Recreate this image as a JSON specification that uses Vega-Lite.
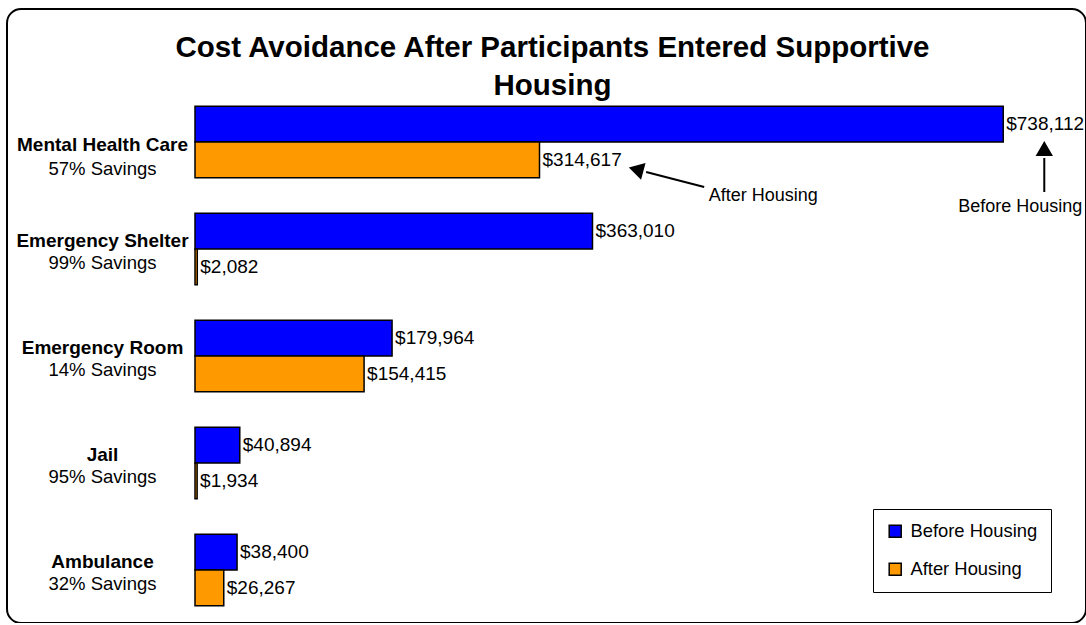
{
  "$schema": "https://vega.github.io/schema/vega-lite/v6.json",
  "width": 1079,
  "height": 614,
  "autosize": {"type": "none"},
  "padding": {"left": 7, "top": 9, "right": 0, "bottom": 0},
  "background": "white",
  "config": {
    "view": {"stroke": "black", "strokeWidth": 2, "cornerRadius": 14, "fill": "white"},
    "font": "Liberation Sans"
  },
  "title": {
    "text": ["Cost Avoidance After Participants Entered Supportive", "Housing"],
    "font": "Liberation Sans",
    "fontSize": 29.5,
    "fontWeight": "bold",
    "color": "black",
    "anchor": "middle",
    "frame": "group",
    "baseline": "top",
    "offset": -92,
    "lineHeight": 38,
    "dx": 6
  },
  "resolve": {"axis": {"y": "independent"}},
  "datasets": {
    "costs": [
      {"category": "Mental Health Care|57% Savings", "series": "Before Housing", "cost": 738112},
      {"category": "Mental Health Care|57% Savings", "series": "After Housing", "cost": 314617},
      {"category": "Emergency Shelter|99% Savings", "series": "Before Housing", "cost": 363010},
      {"category": "Emergency Shelter|99% Savings", "series": "After Housing", "cost": 2082},
      {"category": "Emergency Room|14% Savings", "series": "Before Housing", "cost": 179964},
      {"category": "Emergency Room|14% Savings", "series": "After Housing", "cost": 154415},
      {"category": "Jail|95% Savings", "series": "Before Housing", "cost": 40894},
      {"category": "Jail|95% Savings", "series": "After Housing", "cost": 1934},
      {"category": "Ambulance|32% Savings", "series": "Before Housing", "cost": 38400},
      {"category": "Ambulance|32% Savings", "series": "After Housing", "cost": 26267}
    ]
  },
  "layer": [
    {
      "data": {"name": "costs"},
      "mark": {"type": "bar", "stroke": "black", "strokeWidth": 1.5},
      "encoding": {
        "y": {
          "field": "category", "type": "nominal", "sort": null,
          "scale": {"range": [79.5, 614.5], "paddingInner": 0.33, "paddingOuter": 0.165},
          "axis": {
            "title": null, "domain": false, "ticks": false,
            "labelPadding": -95, "labelAlign": "center",
            "labelFontSize": 19, "labelFontWeight": "bold", "labelColor": "black",
            "labelExpr": "split(datum.value, '|')[0]",
            "labelOffset": {"condition": {"test": "indexof(datum.value, 'Mental') == 0", "value": 3}, "value": -8}
          }
        },
        "yOffset": {
          "field": "series", "type": "nominal", "sort": ["Before Housing", "After Housing"],
          "scale": {"paddingInner": 0, "paddingOuter": 0}
        },
        "x": {
          "field": "cost", "type": "quantitative",
          "scale": {"domain": [0, 800000], "range": [188, 1064], "nice": false, "zero": true},
          "axis": null
        },
        "color": {
          "field": "series", "type": "nominal",
          "scale": {"domain": ["Before Housing", "After Housing"], "range": ["#0000FF", "#FF9900"]},
          "legend": {
            "title": null, "orient": "none", "legendX": 866, "legendY": 500,
            "strokeColor": "black", "fillColor": "white", "padding": 13,
            "labelFont": "Liberation Sans", "labelFontSize": 18.4, "labelColor": "black", "labelOffset": 6,
            "symbolType": "square", "symbolSize": 144, "symbolStrokeColor": "black", "symbolStrokeWidth": 1.5,
            "rowPadding": 19
          }
        }
      }
    },
    {
      "data": {"name": "costs"},
      "mark": {"type": "text", "align": "left", "baseline": "middle", "dx": 3, "fontSize": 19, "font": "Liberation Sans", "color": "black"},
      "encoding": {
        "y": {
          "field": "category", "type": "nominal", "sort": null,
          "axis": {
            "orient": "right",
            "title": null, "domain": false, "ticks": false,
            "labelPadding": -984, "labelAlign": "center",
            "labelFontSize": 18.5, "labelFontWeight": "normal", "labelColor": "black",
            "labelExpr": "substring(datum.value, indexof(datum.value, '|') + 1)",
            "labelOffset": {"condition": {"test": "indexof(datum.value, 'Mental') == 0", "value": 27}, "value": 14}
          }
        },
        "yOffset": {"field": "series", "type": "nominal", "sort": ["Before Housing", "After Housing"]},
        "x": {"field": "cost", "type": "quantitative"},
        "text": {"field": "cost", "type": "quantitative", "format": "$,.0f"}
      }
    },
    {
      "data": {"values": [{"category": "Mental Health Care|57% Savings", "from": 465000, "to": 412000}]},
      "mark": {"type": "rule", "color": "black", "strokeWidth": 2, "yOffset": 45, "y2Offset": 30},
      "encoding": {
        "y": {"field": "category", "type": "nominal", "sort": null, "axis": null},
        "y2": {"field": "category"},
        "x": {"field": "from", "type": "quantitative"},
        "x2": {"field": "to"}
      }
    },
    {
      "data": {"values": [{"category": "Mental Health Care|57% Savings", "at": 405000}]},
      "mark": {"type": "point", "shape": "triangle", "filled": true, "color": "black", "opacity": 1, "size": 300, "angle": 285, "yOffset": 28},
      "encoding": {
        "y": {"field": "category", "type": "nominal", "sort": null, "axis": null},
        "x": {"field": "at", "type": "quantitative"}
      }
    },
    {
      "data": {"values": [{"category": "Mental Health Care|57% Savings", "at": 775600}]},
      "mark": {"type": "rule", "color": "black", "strokeWidth": 2, "yOffset": 50, "y2Offset": 16},
      "encoding": {
        "y": {"field": "category", "type": "nominal", "sort": null, "axis": null},
        "y2": {"field": "category"},
        "x": {"field": "at", "type": "quantitative"}
      }
    },
    {
      "data": {"values": [{"category": "Mental Health Care|57% Savings", "at": 775600}]},
      "mark": {"type": "point", "shape": "triangle", "filled": true, "color": "black", "opacity": 1, "size": 300, "angle": 0, "yOffset": 9},
      "encoding": {
        "y": {"field": "category", "type": "nominal", "sort": null, "axis": null},
        "x": {"field": "at", "type": "quantitative"}
      }
    },
    {
      "data": {"values": [{"category": "Mental Health Care|57% Savings", "at": 518900, "label": "After Housing"}]},
      "mark": {"type": "text", "align": "center", "baseline": "middle", "fontSize": 18, "font": "Liberation Sans", "color": "black", "yOffset": 54},
      "encoding": {
        "y": {"field": "category", "type": "nominal", "sort": null, "axis": null},
        "x": {"field": "at", "type": "quantitative"},
        "text": {"field": "label"}
      }
    },
    {
      "data": {"values": [{"category": "Mental Health Care|57% Savings", "at": 753600, "label": "Before Housing"}]},
      "mark": {"type": "text", "align": "center", "baseline": "middle", "fontSize": 18, "font": "Liberation Sans", "color": "black", "yOffset": 65},
      "encoding": {
        "y": {"field": "category", "type": "nominal", "sort": null, "axis": null},
        "x": {"field": "at", "type": "quantitative"},
        "text": {"field": "label"}
      }
    }
  ]
}
